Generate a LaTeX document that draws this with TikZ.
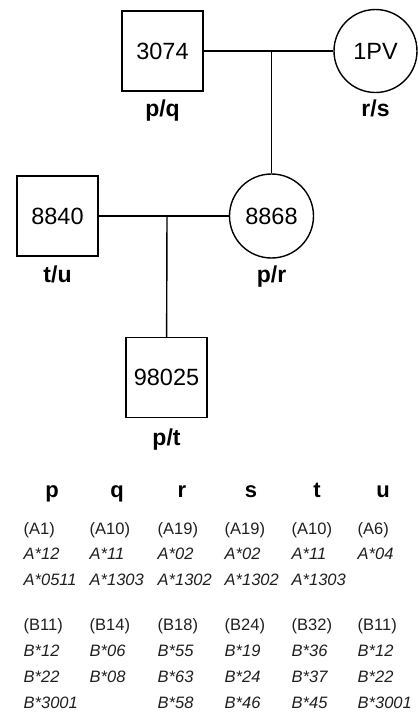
\documentclass[tikz,border=0pt]{standalone}
\usepackage{fontspec}
\setmainfont{Liberation Sans}
\begin{document}
\begin{tikzpicture}[x=1pt,y=-1pt,
  line width=1.4pt,
  sq/.style={draw, minimum width=81pt, minimum height=80pt, inner sep=0pt, font=\fontsize{23.5}{26}\selectfont},
  ci/.style={draw, circle, minimum size=84pt, inner sep=0pt, font=\fontsize{23.5}{26}\selectfont},
  lab/.style={anchor=base, font=\fontsize{23}{26}\selectfont\bfseries},
  hd/.style={anchor=base, font=\fontsize{22}{24}\selectfont\bfseries},
  cell/.style={anchor=base west, inner sep=0pt, text=black!88, font=\fontsize{16.5}{18}\selectfont},
  ical/.style={cell, font=\fontsize{16.5}{18}\selectfont\itshape}]
\useasboundingbox (0,0) rectangle (418,713);
% pedigree
\node[sq] (s3074) at (162.5,51) {3074};
\node[ci, minimum size=83pt] (c1pv) at (375.5,51) {1PV};
\node[sq] (s8840) at (57.5,216) {8840};
\node[ci] (c8868) at (271.5,216) {8868};
\node[sq] (s98025) at (166.5,377.5) {98025};
\coordinate (m1) at (271.5,51);
\coordinate (m2) at (167,216);
\draw (s3074) -- (c1pv);
\draw (m1) -- (c8868);
\draw (s8840) -- (c8868);
\draw (m2) -- (s98025);
\node[lab] (l1) at (162.5,116) {p/q};
\node[lab] (l2) at (375.5,116) {r/s};
\node[lab] (l3) at (57.5,282) {t/u};
\node[lab] (l4) at (271.5,282) {p/r};
\node[lab] (l5) at (166.5,445) {p/t};
% table headers
\node[hd] (hp) at (52,497) {p};
\node[hd] (hq) at (117,497) {q};
\node[hd] (hr) at (182,497) {r};
\node[hd] (hs) at (251,497) {s};
\node[hd] (ht) at (317,497) {t};
\node[hd] (hu) at (383,497) {u};
% A rows
\node[cell] (a1p) at (23,534) {(A1)};
\node[cell] (a1q) at (89,534) {(A10)};
\node[cell] (a1r) at (157,534) {(A19)};
\node[cell] (a1s) at (224,534) {(A19)};
\node[cell] (a1t) at (291,534) {(A10)};
\node[cell] (a1u) at (357,534) {(A6)};
\node[ical] (a2p) at (23,559) {A*12};
\node[ical] (a2q) at (89,559) {A*11};
\node[ical] (a2r) at (157,559) {A*02};
\node[ical] (a2s) at (224,559) {A*02};
\node[ical] (a2t) at (291,559) {A*11};
\node[ical] (a2u) at (357,559) {A*04};
\node[ical] (a3p) at (23,585) {A*0511};
\node[ical] (a3q) at (89,585) {A*1303};
\node[ical] (a3r) at (157,585) {A*1302};
\node[ical] (a3s) at (224,585) {A*1302};
\node[ical] (a3t) at (291,585) {A*1303};
% B rows
\node[cell] (b1p) at (23,630) {(B11)};
\node[cell] (b1q) at (89,630) {(B14)};
\node[cell] (b1r) at (157,630) {(B18)};
\node[cell] (b1s) at (224,630) {(B24)};
\node[cell] (b1t) at (291,630) {(B32)};
\node[cell] (b1u) at (357,630) {(B11)};
\node[ical] (b2p) at (23,656) {B*12};
\node[ical] (b2q) at (89,656) {B*06};
\node[ical] (b2r) at (157,656) {B*55};
\node[ical] (b2s) at (224,656) {B*19};
\node[ical] (b2t) at (291,656) {B*36};
\node[ical] (b2u) at (357,656) {B*12};
\node[ical] (b3p) at (23,682) {B*22};
\node[ical] (b3q) at (89,682) {B*08};
\node[ical] (b3r) at (157,682) {B*63};
\node[ical] (b3s) at (224,682) {B*24};
\node[ical] (b3t) at (291,682) {B*37};
\node[ical] (b3u) at (357,682) {B*22};
\node[ical] (b4p) at (23,708) {B*3001};
\node[ical] (b4r) at (157,708) {B*58};
\node[ical] (b4s) at (224,708) {B*46};
\node[ical] (b4t) at (291,708) {B*45};
\node[ical] (b4u) at (357,708) {B*3001};
\end{tikzpicture}
\end{document}
